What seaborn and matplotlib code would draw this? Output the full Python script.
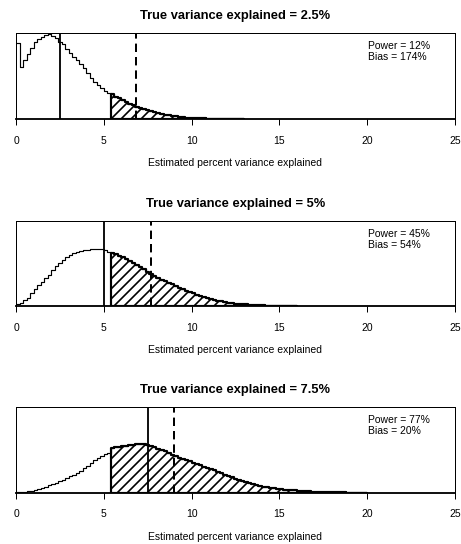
import numpy as np
import pandas as pd
import matplotlib
matplotlib.use("Agg")
import matplotlib.pyplot as plt
import seaborn as sns

sns.set_theme(style="ticks", rc={
    "axes.edgecolor": "black",
    "xtick.color": "black",
    "text.color": "black",
    "axes.labelcolor": "black",
})
plt.rcParams["font.family"] = ["Liberation Sans", "DejaVu Sans"]
plt.rcParams["hatch.linewidth"] = 1.0
plt.rcParams["hatch.color"] = "black"

DPI = 120
BIN_WIDTH = 0.2          # width of each histogram bin (percent)
THRESHOLD = 5.4          # smallest estimate reaching significance (percent)

true_pct = [2.5, 5, 7.5]
power_pct = [12, 45, 77]
bias_pct = [174, 54, 20]
xticks = [0, 5, 10, 15, 20, 25]

# Simulated sampling distributions of the estimate (relative frequency per bin)
hist_25 = [
    0.88, 0.60, 0.69, 0.76, 0.82, 0.89, 0.935, 0.955, 0.975, 0.985,
    0.965, 0.945, 0.90, 0.87, 0.815, 0.77, 0.72, 0.685, 0.635, 0.59,
    0.54, 0.48, 0.435, 0.39, 0.355, 0.33, 0.30, 0.285, 0.26, 0.24,
    0.218, 0.195, 0.177, 0.158, 0.142, 0.127, 0.113, 0.100, 0.088, 0.077,
    0.067, 0.058, 0.050, 0.043, 0.037, 0.031, 0.026, 0.021, 0.017, 0.014,
    0.011, 0.009, 0.007, 0.006, 0.005, 0.004, 0.003, 0.003, 0.002, 0.002,
    0.001, 0.001, 0.001, 0.0, 0.0,
]
hist_50 = [
    0.02, 0.04, 0.065, 0.10, 0.15, 0.195, 0.25, 0.285, 0.33, 0.37,
    0.425, 0.465, 0.51, 0.54, 0.575, 0.60, 0.62, 0.64, 0.645, 0.655,
    0.66, 0.668, 0.67, 0.672, 0.665, 0.655, 0.64, 0.625, 0.61, 0.59,
    0.575, 0.555, 0.535, 0.51, 0.485, 0.455, 0.43, 0.405, 0.38, 0.355,
    0.335, 0.31, 0.29, 0.272, 0.255, 0.235, 0.215, 0.198, 0.182, 0.166,
    0.15, 0.135, 0.12, 0.106, 0.093, 0.082, 0.071, 0.061, 0.053, 0.046,
    0.040, 0.034, 0.029, 0.025, 0.021, 0.018, 0.015, 0.012, 0.010, 0.008,
    0.006, 0.005, 0.004, 0.003, 0.002, 0.002, 0.001, 0.001, 0.001, 0.0,
]
hist_75 = [
    0.003, 0.006, 0.010, 0.015, 0.020, 0.030, 0.040, 0.055, 0.070, 0.085,
    0.100, 0.115, 0.132, 0.150, 0.168, 0.190, 0.212, 0.235, 0.258, 0.285,
    0.315, 0.345, 0.380, 0.405, 0.430, 0.448, 0.465, 0.520, 0.528, 0.535,
    0.540, 0.548, 0.552, 0.560, 0.566, 0.572, 0.568, 0.560, 0.548, 0.532,
    0.515, 0.500, 0.485, 0.465, 0.445, 0.425, 0.410, 0.395, 0.378, 0.365,
    0.350, 0.335, 0.320, 0.305, 0.290, 0.278, 0.262, 0.245, 0.228, 0.210,
    0.195, 0.180, 0.165, 0.150, 0.135, 0.120, 0.108, 0.097, 0.087, 0.077,
    0.069, 0.062, 0.056, 0.051, 0.046, 0.041, 0.037, 0.033, 0.029, 0.026,
    0.023, 0.020, 0.018, 0.016, 0.014, 0.012, 0.010, 0.008, 0.007, 0.006,
    0.005, 0.004, 0.003, 0.003, 0.002, 0.002, 0.001, 0.001, 0.001, 0.0,
]
histograms = [hist_25, hist_50, hist_75]

W, H = 461, 544
fig = plt.figure(figsize=(W / DPI, H / DPI), dpi=DPI)

# axes boxes in pixels: (top, bottom)
left_px, right_px = 16, 455
panel_px = [(33, 119), (221, 306), (407, 492.7)]

for heights, t, pw, bs, (top, bot) in zip(histograms, true_pct, power_pct,
                                         bias_pct, panel_px):
    ax = fig.add_axes([left_px / W, 1 - bot / H,
                       (right_px - left_px) / W, (bot - top) / H])
    n = len(heights)
    edges = [i * BIN_WIDTH for i in range(n + 1)]
    df = pd.DataFrame({"x": [e + BIN_WIDTH / 2 for e in edges[:-1]],
                       "h": heights})

    # full distribution, thin outline
    sns.histplot(data=df, x="x", weights="h", bins=edges, element="step",
                 fill=False, color="black", linewidth=0.7, ax=ax)

    # significant estimates: hatched with a heavier outline
    k = int(round(THRESHOLD / BIN_WIDTH))
    sig = df[df["x"] >= THRESHOLD]
    sns.histplot(data=sig, x="x", weights="h", bins=edges[k:], element="step",
                 fill=True, color="black", facecolor="none",
                 edgecolor="black", hatch="////", linewidth=1.3, ax=ax)

    ax.axvline(t, color="black", linewidth=1.1)
    ax.axvline(t * (1 + bs / 100), color="black", linewidth=1.2,
               linestyle=(0, (4.2, 2.5)))

    ax.set_xlim(0, 25)
    ax.set_ylim(0, 1)
    ax.set_xticks(xticks)
    ax.set_xticklabels([str(v) for v in xticks])
    ax.set_yticks([])
    ax.set_ylabel("")
    ax.tick_params(axis="x", direction="out", length=3.6, width=0.6,
                   pad=6.4, labelsize=6.25)
    for side, sp in ax.spines.items():
        sp.set_visible(True)
        sp.set_linewidth(0.6)
        sp.set_color("black")
    ax.spines["bottom"].set_linewidth(1.1)

    ax.set_title(f"True variance explained = {t:g}%", fontsize=7.7,
                 fontweight="bold", pad=8.4)
    ax.set_xlabel("Estimated percent variance explained", fontsize=6.25,
                  labelpad=7.6)

    ax.text(0.802, 1 - 13 / 86, f"Power = {pw}%", transform=ax.transAxes,
            ha="left", va="center", fontsize=6.25)
    ax.text(0.802, 1 - 24 / 86, f"Bias = {bs}%", transform=ax.transAxes,
            ha="left", va="center", fontsize=6.25)

fig.savefig("out.png", dpi=DPI)
